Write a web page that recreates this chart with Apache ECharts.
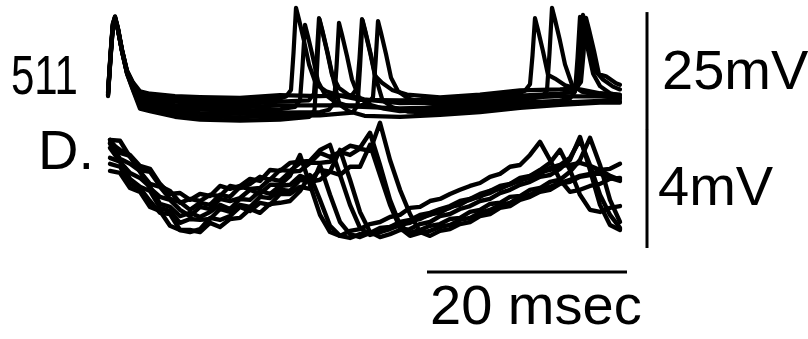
<!DOCTYPE html>
<html>
<head>
<meta charset="utf-8">
<script src="https://cdn.jsdelivr.net/npm/echarts@6/dist/echarts.min.js"></script>
<style>
  html, body { margin: 0; padding: 0; background: #fff; }
  #chart { width: 808px; height: 339px; }
</style>
</head>
<body>
<div id="chart"></div>
<script>
// Unit 511: eight superimposed sweeps, membrane potential in mV against time in ms
const unitSweep1 = [[0.8,8.1],[1.05,16.2],[1.28,22.6],[1.5,24.0],[1.8,21.5],[2.2,17.0],[2.7,12.6],[3.3,10.1],[4,8.2],[5,7.7],[7.5,7.2],[10,7.0],[14,6.8],[18,7.4],[22,7.2],[25.2,7.4],[25.7,8.8],[25.95,15.2],[26.2,23.5],[26.5,21.0],[27.0,16.5],[27.5,11.5],[28.2,10.0],[29.2,8.5],[30.7,7.5],[34,6.9],[38,7.5],[42,8.4],[46,8.6],[47.6,8.8],[48.1,10.2],[48.35,16.1],[48.6,23.8],[48.9,21.3],[49.4,16.8],[49.9,11.8],[50.6,11.4],[51.6,9.9],[52,9.6]];
const unitSweep2 = [[0.8,7.9],[1.05,16.0],[1.28,22.4],[1.5,23.8],[1.8,21.3],[2.2,16.8],[2.7,12.5],[3.3,9.9],[4,7.7],[5,7.2],[7.5,6.6],[10,6.3],[14,6.2],[18,6.7],[18.6,7.1],[19.1,8.5],[19.35,16.3],[19.6,25.9],[19.9,23.4],[20.4,18.9],[20.9,13.9],[21.6,9.7],[22.6,8.2],[24.1,7.2],[26,6.4],[30,6.3],[34,6.4],[38,7.0],[42,7.9],[42.5,8.3],[43.0,9.7],[43.25,15.8],[43.5,23.7],[43.8,21.2],[44.3,16.7],[44.8,11.7],[45.5,10.9],[46.5,9.5],[48,8.6],[50,7.8],[52,7.5]];
const unitSweep3 = [[0.8,7.8],[1.05,15.8],[1.28,22.3],[1.5,24.1],[1.8,21.6],[2.2,17.1],[2.7,12.4],[3.3,9.6],[4,7.1],[5,6.6],[7.5,6.0],[10,5.7],[14,5.5],[18,6.0],[20.9,6.3],[21.4,7.7],[21.65,14.8],[21.9,23.7],[22.2,21.2],[22.7,16.7],[23.2,11.7],[23.9,8.9],[24.9,7.4],[26.4,6.5],[30,5.7],[34,5.8],[38,6.4],[42,7.3],[46,7.7],[47.3,8.1],[47.8,9.5],[48.05,16.0],[48.3,24.4],[48.6,21.9],[49.1,17.4],[49.6,12.4],[50.3,10.7],[51.3,9.2],[52,8.6]];
const unitSweep4 = [[0.8,7.7],[1.05,15.6],[1.28,22.1],[1.5,23.9],[1.8,21.4],[2.2,16.9],[2.7,12.3],[3.3,9.4],[4,6.6],[5,6.1],[7.5,5.3],[10,5.0],[14,4.8],[18,5.2],[22,5.2],[26,5.2],[26.8,5.6],[27.3,7.0],[27.55,14.2],[27.8,23.1],[28.1,20.6],[28.6,16.1],[29.1,11.1],[29.8,8.2],[30.8,6.7],[32.3,5.8],[34,5.3],[38,5.9],[42,6.8],[46,7.2],[50,7.1],[52,6.9]];
const unitSweep5 = [[0.8,7.5],[1.05,15.5],[1.28,22.0],[1.5,23.7],[1.8,21.2],[2.2,16.7],[2.7,12.2],[3.3,9.2],[4,6.1],[5,5.6],[7.5,4.7],[10,4.3],[14,4.1],[18,4.4],[19.5,4.9],[20.0,6.3],[20.25,13.4],[20.5,22.3],[20.8,19.8],[21.3,15.3],[21.8,10.3],[22.5,7.5],[23.5,6.0],[25.0,5.0],[30,4.6],[34,4.8],[38,5.4],[42,6.3],[44.2,7.0],[44.7,8.4],[44.95,16.3],[45.2,25.9],[45.5,23.4],[46.0,18.9],[46.5,13.9],[47.2,9.6],[48.2,8.1],[49.7,7.4],[52,6.6]];
const unitSweep6 = [[0.8,7.4],[1.05,15.3],[1.28,21.8],[1.5,23.8],[1.8,21.3],[2.2,16.8],[2.7,12.1],[3.3,8.9],[4,5.6],[5,5.1],[7.5,4.1],[10,3.6],[14,3.4],[18,3.7],[22,3.8],[22.9,4.3],[23.4,5.7],[23.65,13.3],[23.9,22.7],[24.2,20.2],[24.7,15.7],[25.2,10.7],[25.9,6.9],[26.9,5.4],[28.4,4.5],[30,4.0],[34,4.3],[38,4.9],[42,5.8],[46,6.2],[47.0,6.7],[47.5,8.1],[47.75,15.2],[48.0,24.0],[48.3,21.5],[48.8,17.0],[49.3,12.0],[50.0,9.3],[51.0,7.8],[52,7.3]];
const unitSweep7 = [[0.8,7.3],[1.05,15.2],[1.28,21.7],[1.5,23.6],[1.8,21.1],[2.2,16.6],[2.7,12.0],[3.3,8.6],[4,5.0],[5,4.5],[7.5,3.5],[10,2.9],[14,2.7],[18,3.0],[22,3.1],[25.25,3.7],[25.75,5.1],[26.0,13.3],[26.25,23.3],[26.55,20.8],[27.05,16.3],[27.55,11.3],[28.25,6.3],[29.25,4.8],[30.75,3.9],[34,3.7],[38,4.3],[42,5.2],[46,5.8],[50,6.2],[52,6.1]];
const unitSweep8 = [[0.8,7.2],[1.05,15.0],[1.28,21.6],[1.5,23.7],[1.8,21.2],[2.2,16.7],[2.7,11.9],[3.3,8.4],[4,4.5],[5,4.0],[7.5,2.8],[10,2.2],[14,2.0],[18,2.2],[20.95,2.8],[21.45,4.2],[21.7,13.0],[21.95,23.5],[22.25,21.0],[22.75,16.5],[23.25,11.5],[23.95,5.4],[24.95,3.9],[26.45,3.0],[30,2.8],[34,3.2],[38,3.8],[42,4.7],[46,5.3],[50,5.8],[52,5.8]];

// Trace D: the same eight sweeps, sampled every ms (mV)
const dendTime = [1,2,3,4,5,6,7,8,9,10,11,12,13,14,15,16,17,18,19,20,21,22,23,24,25,26,27,28,29,30,31,32,33,34,35,36,37,38,39,40,41,42,43,44,45,46,47,48,49,50,51,52];
const dendSweep1 = [3.66,3.63,3.08,2.64,2.58,2.10,1.93,1.53,1.66,1.59,1.80,1.76,2.10,2.03,2.17,2.41,2.31,2.64,2.61,2.88,2.88,3.22,3.08,3.25,3.46,3.39,3.90,2.81,1.63,0.78,0.51,0.61,0.75,0.81,0.98,1.02,1.22,1.29,1.49,1.53,1.73,1.76,1.97,2.03,2.24,2.31,2.58,2.98,3.73,2.81,1.63,0.88];
const dendSweep2 = [3.53,3.02,2.85,2.61,2.03,1.73,1.63,1.29,1.08,1.39,1.32,1.66,1.59,1.69,1.97,1.83,2.14,2.14,2.44,3.15,2.14,1.12,0.54,0.41,0.58,0.64,0.81,0.88,1.05,1.12,1.36,1.39,1.59,1.66,1.83,1.97,2.10,2.20,2.41,2.51,2.75,2.81,3.15,3.59,2.98,2.31,1.90,1.97,2.10,2.17,2.34,2.37];
const dendSweep3 = [2.85,2.75,2.17,2.03,1.59,1.19,1.15,0.61,0.54,0.64,1.02,0.95,1.08,1.39,1.25,1.53,1.46,1.83,1.83,2.07,2.00,2.81,1.80,0.88,0.47,0.37,0.51,0.54,0.71,0.75,0.92,0.98,1.15,1.19,1.39,1.46,1.66,1.73,1.93,2.00,2.17,2.27,2.44,2.51,2.71,2.81,3.05,3.66,2.81,1.80,1.12,0.68];
const dendSweep4 = [3.66,3.22,3.12,2.58,2.17,2.07,1.66,1.56,1.29,1.53,1.46,1.80,1.73,2.07,2.00,2.03,2.34,2.27,2.58,2.61,2.88,2.88,2.92,3.25,3.15,3.36,3.29,4.24,2.98,1.97,1.15,0.54,0.41,0.58,0.64,0.81,0.88,1.08,1.15,1.36,1.42,1.63,1.73,1.90,1.97,2.17,2.24,2.41,2.47,2.64,2.68,2.85];
const dendSweep5 = [2.61,2.54,2.03,1.90,1.39,1.25,0.75,0.61,0.61,0.54,0.85,0.71,0.98,1.02,1.32,1.19,1.49,1.53,1.59,1.93,2.47,1.63,0.75,0.41,0.34,0.47,0.51,0.68,0.71,0.88,0.95,1.12,1.19,1.32,1.42,1.59,1.66,1.83,1.93,2.10,2.17,2.37,2.44,2.64,2.88,3.32,2.64,1.80,1.29,1.22,1.36,1.42];
const dendSweep6 = [3.39,2.92,2.54,2.37,2.07,1.49,1.39,1.08,1.19,1.05,1.22,1.46,1.32,1.66,1.63,1.93,1.83,2.10,2.14,2.44,2.31,2.64,2.58,3.32,2.31,1.22,0.54,0.37,0.47,0.61,0.64,0.81,0.88,1.08,1.15,1.32,1.42,1.59,1.66,1.86,1.97,2.14,2.24,2.41,2.47,2.68,2.98,3.76,2.64,1.46,0.78,0.61];
const dendSweep7 = [3.05,2.92,2.34,2.07,1.93,1.36,1.25,0.85,0.98,0.95,0.98,1.32,1.22,1.46,1.39,1.73,1.69,1.97,1.93,2.31,2.24,2.31,2.58,2.47,2.75,2.75,3.49,2.47,1.46,0.68,0.41,0.51,0.58,0.71,0.78,0.95,1.02,1.19,1.29,1.46,1.53,1.73,1.80,1.97,2.07,2.20,2.31,2.44,2.51,2.51,2.37,2.27];
const dendSweep8 = [3.56,3.32,3.15,2.78,2.68,2.17,1.83,1.86,1.63,1.83,1.76,2.10,2.00,2.10,2.34,2.27,2.64,2.61,2.88,2.92,2.95,3.32,3.49,2.47,1.46,0.68,0.44,0.54,0.64,0.78,0.85,1.02,1.12,1.25,1.36,1.53,1.63,1.76,1.86,2.03,2.14,2.31,2.37,2.58,2.64,2.78,2.81,2.88,2.78,2.64,2.44,2.31];

// Calibration bars
const scaleUnitMv = 25;
const scaleDendMv = 4;
const scaleTimeMs = 20;

const unitSweeps = [unitSweep1, unitSweep2, unitSweep3, unitSweep4, unitSweep5, unitSweep6, unitSweep7, unitSweep8];
const dendSweeps = [dendSweep1, dendSweep2, dendSweep3, dendSweep4, dendSweep5, dendSweep6, dendSweep7, dendSweep8];

const INK = '#000';
const barX = 54.7;          // ms, position of the vertical calibration bar
const timeBarStart = 32.7;  // ms
const timeBarLevel = -0.81; // mV on the D axis, below the trace

function trace(xi, data, width, cap) {
  return {
    type: 'line', xAxisIndex: xi, yAxisIndex: xi, data: data,
    symbol: 'none', showSymbol: false, silent: true, clip: false,
    animation: false,
    lineStyle: { color: INK, width: width, join: 'round', cap: cap || 'round' }
  };
}

const series = [];
unitSweeps.forEach(s => series.push(trace(0, s, 4.2)));
dendSweeps.forEach(v => series.push(trace(1, dendTime.map((t, i) => [t, v[i]]), 4.4)));
series.push(trace(0, [[barX, 0], [barX, scaleUnitMv]], 3, 'butt'));
series.push(trace(1, [[barX, 0], [barX, scaleDendMv]], 3, 'butt'));
series.push(trace(1, [[timeBarStart, timeBarLevel], [timeBarStart + scaleTimeMs, timeBarLevel]], 3, 'butt'));

const FONT = '56px "Liberation Sans", Arial, sans-serif';
function label(text, x, y, sx) {
  return { type: 'text', x: x, y: y, scaleX: sx || 1, silent: true,
    style: { text: text, fill: INK, font: FONT, align: 'left', verticalAlign: 'middle' } };
}

const chart = echarts.init(document.getElementById('chart'), null, { renderer: 'canvas' });
chart.setOption({
  animation: false,
  backgroundColor: '#fff',
  grid: [
    { left: 100, width: 550, top: 5, height: 125 },
    { left: 100, width: 550, top: 118, height: 130 }
  ],
  xAxis: [
    { gridIndex: 0, type: 'value', min: 0, max: 55, show: false },
    { gridIndex: 1, type: 'value', min: 0, max: 55, show: false }
  ],
  yAxis: [
    { gridIndex: 0, type: 'value', min: 0, max: 26.5, show: false },
    { gridIndex: 1, type: 'value', min: 0, max: 4.4, show: false }
  ],
  series: series,
  graphic: [
    label('511', 11, 79, 0.75),
    label('D.', 38, 154),
    label('25mV', 662, 74),
    label('4mV', 658, 190),
    label('20 msec', 430, 309)
  ]
});
</script>
</body>
</html>
